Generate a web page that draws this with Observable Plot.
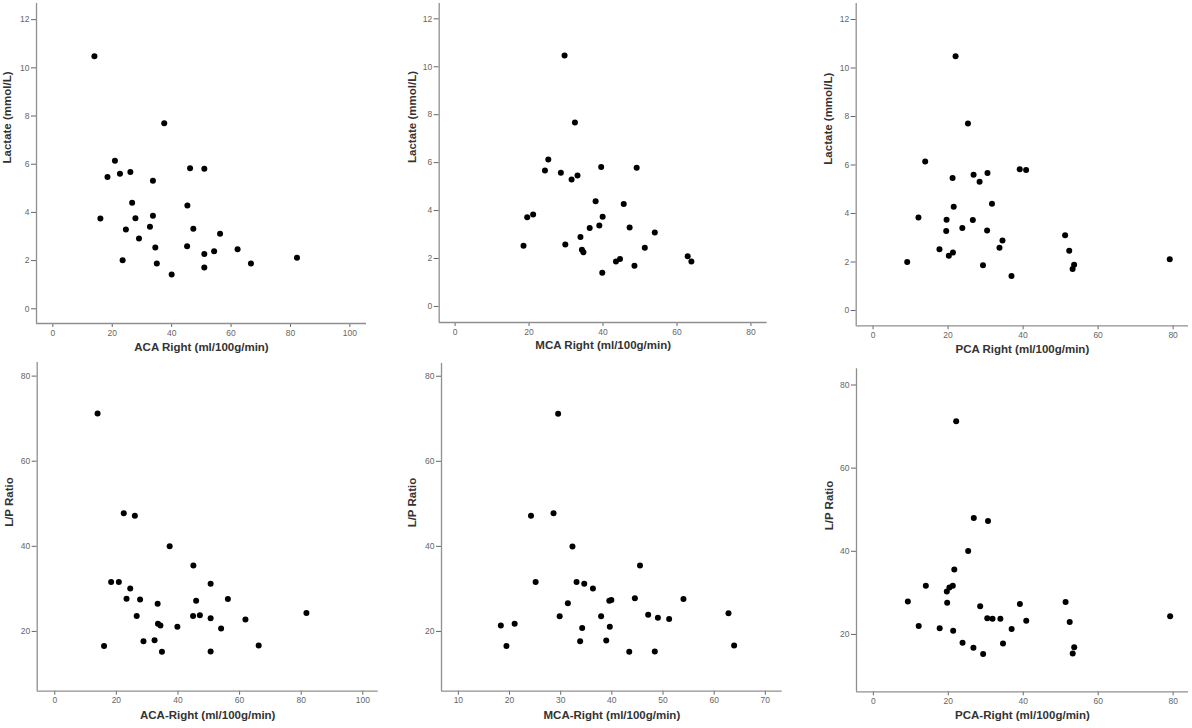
<!DOCTYPE html>
<html>
<head>
<meta charset="utf-8">
<script src="https://cdn.jsdelivr.net/npm/d3@7"></script>
<script src="https://cdn.jsdelivr.net/npm/@observablehq/plot@0.6"></script>
<style>
  html, body { margin: 0; padding: 0; background: #fff; }
  #wrap { position: relative; width: 1192px; height: 728px; overflow: hidden; background: #fff; }
  .panel { position: absolute; }
  .panel svg { overflow: visible; }
</style>
</head>
<body>
<div id="wrap"></div>
<script>
// ---- Data ----
const lactate_ACA_x = [14.0,37.5,20.9,18.4,22.6,26.1,33.7,46.2,51.0,26.7,45.3,16.0,27.8,33.7,24.6,32.7,47.3,56.3,29.0,34.5,45.2,62.2,54.3,51.0,23.5,82.2,35.0,66.7,51.0,40.0];
const lactate_ACA_y = [10.48,7.70,6.14,5.47,5.60,5.68,5.31,5.83,5.81,4.40,4.29,3.75,3.76,3.86,3.29,3.41,3.32,3.11,2.92,2.54,2.60,2.47,2.39,2.27,2.02,2.12,1.88,1.88,1.71,1.42];

const lactate_MCA_x = [29.6,32.4,25.2,24.3,28.6,31.5,33.1,39.5,49.1,38.0,45.6,19.5,21.1,39.9,36.4,39.0,47.2,54.0,33.9,18.5,29.8,34.3,34.7,51.3,44.6,43.5,48.5,62.9,63.9,39.8];
const lactate_MCA_y = [10.47,7.68,6.13,5.67,5.58,5.30,5.46,5.82,5.79,4.39,4.27,3.72,3.84,3.74,3.27,3.38,3.29,3.08,2.90,2.53,2.58,2.37,2.26,2.45,1.98,1.87,1.70,2.09,1.87,1.41];

const lactate_PCA_x = [22.0,25.3,13.9,21.2,26.8,30.5,28.4,39.1,40.8,31.7,21.5,12.1,19.6,26.6,19.5,23.8,30.4,51.2,34.5,17.7,33.7,52.3,21.3,20.2,9.1,29.3,53.6,53.2,79.1,36.9];
const lactate_PCA_y = [10.49,7.71,6.14,5.46,5.60,5.67,5.31,5.83,5.79,4.40,4.28,3.84,3.74,3.73,3.28,3.40,3.30,3.10,2.89,2.53,2.59,2.46,2.39,2.26,2.00,1.87,1.89,1.71,2.11,1.42];

const lp_ACA_x = [13.9,22.4,26.0,37.3,45.0,18.3,20.8,24.5,50.6,23.3,27.7,33.4,45.9,56.2,26.6,44.9,47.1,50.6,61.9,81.7,33.5,34.3,39.8,54.0,16.0,28.8,32.4,34.8,50.6,66.2];
const lp_ACA_y = [71.2,47.8,47.2,40.0,35.5,31.6,31.6,30.1,31.2,27.7,27.5,26.5,27.2,27.6,23.6,23.6,23.8,23.1,22.8,24.3,21.8,21.4,21.1,20.7,16.6,17.7,17.9,15.2,15.3,16.7];

const lp_MCA_x = [29.5,24.2,28.6,32.3,45.5,25.1,33.1,34.6,36.3,31.4,39.5,39.9,44.5,54.0,29.8,37.9,47.1,49.0,51.2,62.8,18.3,21.0,34.2,39.6,19.4,33.8,38.9,43.4,48.4,63.9];
const lp_MCA_y = [71.2,47.2,47.8,40.0,35.5,31.6,31.6,31.2,30.1,26.6,27.2,27.4,27.8,27.6,23.6,23.6,23.9,23.2,22.9,24.3,21.4,21.8,20.8,21.1,16.6,17.7,17.9,15.2,15.3,16.7];

const lp_PCA_x = [22.1,26.8,30.6,25.3,21.6,14.0,21.2,20.3,19.6,9.2,19.7,28.5,39.1,51.3,30.4,31.8,33.9,40.8,52.4,79.2,12.1,17.7,21.3,36.9,23.8,34.6,26.7,29.3,53.6,53.2];
const lp_PCA_y = [71.3,48.0,47.3,40.1,35.6,31.7,31.7,31.3,30.3,27.9,27.6,26.8,27.3,27.8,23.9,23.8,23.8,23.3,23.0,24.4,22.0,21.5,20.9,21.3,18.0,17.8,16.8,15.3,16.9,15.4];

// Axis ticks
const ticksLactate = [0,2,4,6,8,10,12];
const ticksLP = [20,40,60,80];
const ticksX100 = [0,20,40,60,80,100];
const ticksX80 = [0,20,40,60,80];
const ticksX70 = [10,20,30,40,50,60,70];

// Axis labels
const labelsX = ["ACA Right (ml/100g/min)","MCA Right (ml/100g/min)","PCA Right (ml/100g/min)",
                 "ACA-Right (ml/100g/min)","MCA-Right (ml/100g/min)","PCA-Right (ml/100g/min)"];
const labelsY = ["Lactate (mmol/L)","Lactate (mmol/L)","Lactate (mmol/L)","L/P Ratio","L/P Ratio","L/P Ratio"];

// Axis extents (SPSS-style padding)
const domainsX = [[-5.5,105.6],[-4.3,84.4],[-4.5,84.1],[-5.7,105],[6.7,73.3],[-4.5,84.1]];
const domainsY = [[-0.61,12.67],[-0.67,12.64],[-0.63,12.66],[5.95,83.2],[5.95,83.0],[6.2,83.9]];

// ---- Layout ----
const panels = [
  {xs: lactate_ACA_x, ys: lactate_ACA_y, xt: ticksX100, yt: ticksLactate, left: 0,   top: 0,   w: 380, h: 360, ml: 36,   mr: 14,   mt: 3,   mb: 37,   dxl: -29, dyl: 27},
  {xs: lactate_MCA_x, ys: lactate_MCA_y, xt: ticksX80,  yt: ticksLactate, left: 400, top: 0,   w: 380, h: 360, ml: 38.7, mr: 13.3, mt: 3,   mb: 38,   dxl: -27, dyl: 26.5},
  {xs: lactate_PCA_x, ys: lactate_PCA_y, xt: ticksX80,  yt: ticksLactate, left: 800, top: 0,   w: 392, h: 360, ml: 55.7, mr: 4,    mt: 3,   mb: 34.7, dxl: -28, dyl: 27},
  {xs: lp_ACA_x,      ys: lp_ACA_y,      xt: ticksX100, yt: ticksLP,      left: 0,   top: 360, w: 392, h: 368, ml: 36.7, mr: 14.3, mt: 2,   mb: 37.3, dxl: -28, dyl: 27.5},
  {xs: lp_MCA_x,      ys: lp_MCA_y,      xt: ticksX70,  yt: ticksLP,      left: 400, top: 360, w: 392, h: 368, ml: 41,   mr: 10.3, mt: 3,   mb: 37.3, dxl: -29, dyl: 27.5},
  {xs: lp_PCA_x,      ys: lp_PCA_y,      xt: ticksX80,  yt: ticksLP,      left: 800, top: 360, w: 392, h: 368, ml: 56,   mr: 4,    mt: 8.3, mb: 36.7, dxl: -27, dyl: 27}
];

const wrap = document.getElementById("wrap");
panels.forEach((p, i) => {
  const data = p.xs.map((x, k) => ({x, y: p.ys[k]}));
  const xd = domainsX[i], yd = domainsY[i];
  const chart = Plot.plot({
    width: p.w, height: p.h,
    marginLeft: p.ml, marginRight: p.mr, marginTop: p.mt, marginBottom: p.mb,
    style: {fontFamily: "'Liberation Sans', Arial, sans-serif", background: "transparent", overflow: "visible"},
    x: {domain: xd},
    y: {domain: yd},
    marks: [
      Plot.axisX({ticks: p.xt, tickSize: 4, tickPadding: 2, fontSize: 8.5, color: "#666", label: null, tickFormat: d3.format("d")}),
      Plot.axisY({ticks: p.yt, tickSize: 5, tickPadding: 2, fontSize: 8.5, color: "#666", label: null, tickFormat: d3.format("d")}),
      Plot.ruleY([yd[0]], {stroke: "#8f8f8f", strokeWidth: 1.3}),
      Plot.ruleX([xd[0]], {stroke: "#8f8f8f", strokeWidth: 1.3}),
      Plot.dot(data, {x: "x", y: "y", r: 3, fill: "#000", stroke: "none"}),
      Plot.text([labelsX[i]], {frameAnchor: "bottom", dy: p.dyl, fontSize: 11.5, fontWeight: "bold", fill: "#333"}),
      Plot.text([labelsY[i]], {frameAnchor: "left", dx: p.dxl, rotate: -90, fontSize: 11.5, fontWeight: "bold", fill: "#333"})
    ]
  });
  const div = document.createElement("div");
  div.className = "panel";
  div.style.left = p.left + "px";
  div.style.top = p.top + "px";
  div.appendChild(chart);
  wrap.appendChild(div);
});
</script>
</body>
</html>
